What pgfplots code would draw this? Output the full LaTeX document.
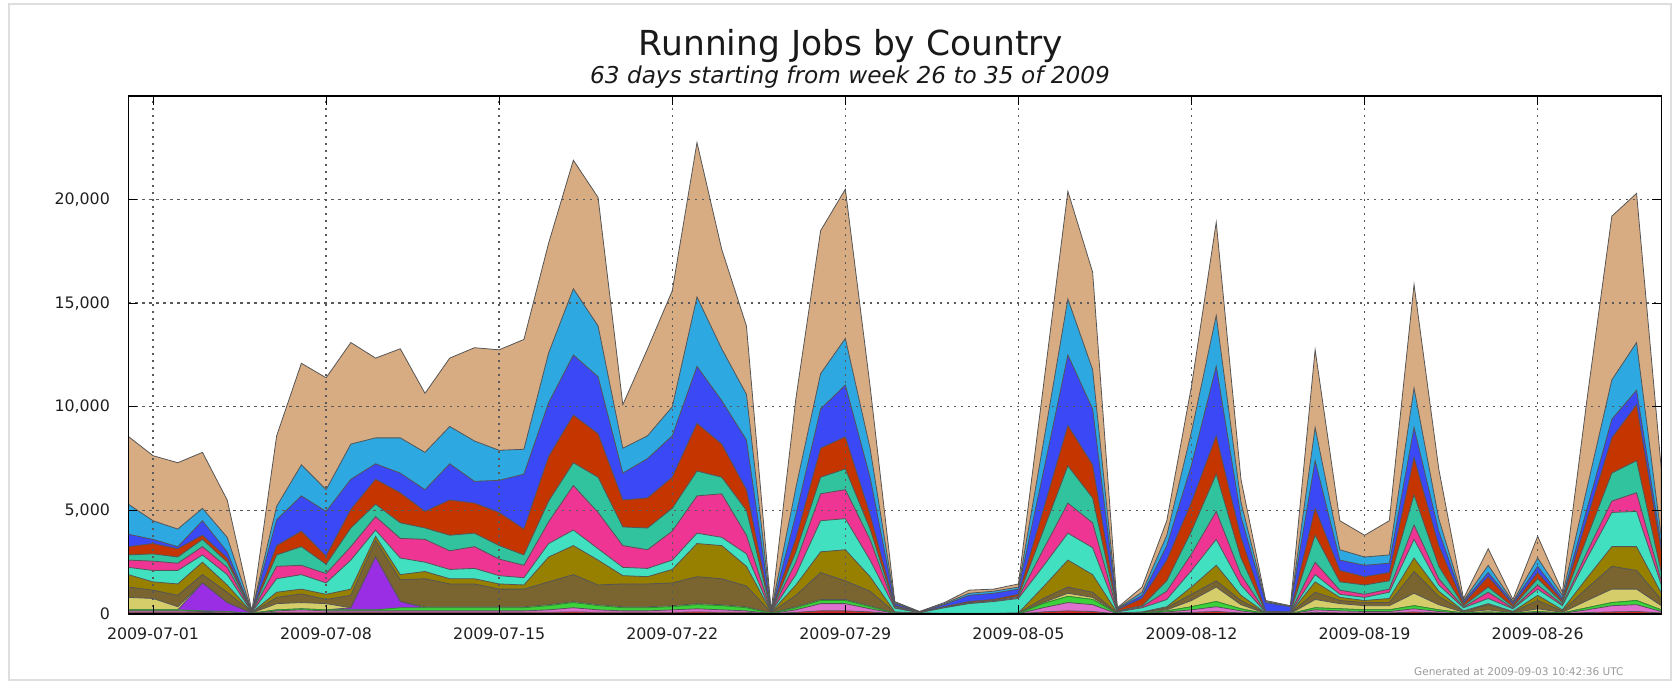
\documentclass[border=0pt]{standalone}
\usepackage{fontspec}
\setmainfont{DejaVu Sans}
\usepackage{pgfplots}
\usepackage{pgfplotstable}
\pgfplotsset{compat=1.18}
\definecolor{ctn}{HTML}{D8AC82}
\definecolor{csk}{HTML}{2EA8E0}
\definecolor{cbl}{HTML}{3A48F5}
\definecolor{crd}{HTML}{C43500}
\definecolor{ctl}{HTML}{31C29E}
\definecolor{cpk}{HTML}{EE3593}
\definecolor{ctq}{HTML}{41E0C0}
\definecolor{col}{HTML}{978000}
\definecolor{cdk}{HTML}{7A6530}
\definecolor{cye}{HTML}{D5CC6A}
\definecolor{cpu}{HTML}{9A2EE5}
\definecolor{cgr}{HTML}{3CD23C}
\definecolor{cmg}{HTML}{E070D0}
\definecolor{crb}{HTML}{E02828}
\definecolor{edgec}{HTML}{555555}

% cumulative tops of the stacked layers (bottom layer rb ... top layer tn)
\pgfplotstableread{
d tn sk bl rd tl pk tq ol dk ye pu gr mg rb
0 8570 5300 3850 3250 2850 2600 2250 1900 1300 800 200 200 150 80
1 7640 4500 3600 3400 2900 2550 2100 1550 1150 750 200 200 150 80
2 7300 4100 3250 3150 2750 2450 2100 1450 900 350 200 200 150 80
3 7800 5100 4500 3800 3600 3250 2850 2500 1900 1500 1500 150 120 80
4 5500 3700 3000 2700 2500 2250 1900 1400 1050 550 550 120 100 50
5 150 140 130 120 110 100 90 80 70 50 40 30 20 10
6 8600 5200 4550 3300 2850 2300 1700 1050 800 500 200 200 150 80
7 12100 7200 5700 4000 3250 2350 1900 1200 970 550 250 250 200 80
8 11400 6000 4950 2800 2400 1950 1500 950 700 500 200 200 150 80
9 13100 8200 6500 5050 4150 3250 2600 1200 900 300 300 200 150 80
10 12350 8500 7250 6500 5300 4700 4050 3750 3550 2750 2750 200 150 80
11 12800 8500 6800 5850 4400 3650 2700 1900 1650 600 600 300 150 80
12 10650 7800 6000 4950 4150 3600 2500 2050 1700 350 300 300 150 80
13 12350 9050 7250 5500 3800 3050 2150 1700 1450 350 300 300 150 80
14 12850 8350 6400 5350 3900 3250 2200 1700 1450 350 300 300 150 80
15 12750 7900 6450 4900 3300 2650 1850 1450 1200 350 300 300 150 80
16 13250 7950 6750 4100 2850 2350 1750 1400 1200 350 300 300 150 80
17 17900 12600 10200 7600 5450 4450 3400 2750 1550 450 400 400 200 80
18 21900 15700 12500 9600 7300 6200 4050 3300 1900 600 550 550 300 100
19 20100 13900 11450 8700 6600 4900 3150 2600 1400 450 400 400 200 80
20 10100 8000 6800 5500 4200 3300 2250 1850 1450 350 300 300 150 80
21 12800 8600 7500 5600 4150 3100 2200 1800 1450 350 300 300 150 80
22 15600 10000 8600 6600 5100 4000 2600 2150 1500 400 350 350 200 80
23 22750 15300 11950 9200 6900 5700 3900 3400 1800 500 450 450 250 100
24 17600 12800 10300 8200 6600 5800 3700 3300 1700 450 400 400 200 80
25 13900 10600 8400 6000 5000 3800 2900 2300 1350 350 300 300 150 80
26 150 140 130 120 110 100 90 80 70 50 40 30 20 10
27 10400 6100 4800 3650 3000 2500 1900 1400 900 350 300 300 200 80
28 18500 11600 9900 8000 6600 5800 4500 3000 2000 700 650 650 500 150
29 20500 13300 11050 8550 7000 6000 4600 3100 1600 700 650 650 500 150
30 11000 8000 6600 4800 4100 3600 2600 1800 1100 400 350 350 250 100
31 600 550 500 400 350 300 280 100 80 50 40 40 30 10
32 120 110 100 90 80 70 60 50 40 30 20 20 10 5
33 550 500 450 350 330 320 300 30 25 20 15 15 10 5
34 1150 1000 900 600 550 520 500 30 25 20 15 15 10 5
35 1200 1100 1000 700 650 620 600 30 25 20 15 15 10 5
36 1450 1300 1200 950 850 800 750 50 40 30 20 20 10 5
37 10900 8200 6800 5000 4000 3100 2300 1300 750 550 500 500 300 100
38 20400 15200 12500 9100 7150 5350 3900 2600 1300 1000 850 850 550 150
39 16500 11800 9900 7200 5600 4400 3200 1900 1050 800 700 700 450 120
40 300 270 240 200 150 120 100 50 40 30 20 20 10 5
41 1300 1050 900 750 400 350 300 100 80 60 40 40 20 10
42 4500 3800 3300 2600 1600 1100 700 350 300 200 150 150 100 50
43 11000 8800 7200 5400 4000 2900 2100 1300 950 650 350 350 200 80
44 18900 14400 11950 8600 6750 4950 3600 2350 1600 1300 600 600 350 120
45 6500 5400 4700 3700 2700 1900 1400 900 650 450 250 250 150 50
46 650 600 550 120 100 90 80 50 40 30 20 20 10 5
47 400 370 350 100 80 70 60 40 30 20 15 15 10 5
48 12750 9000 7400 5100 3800 2500 1900 1550 1050 700 300 300 200 80
49 4500 3100 2600 2100 1550 1150 950 800 650 500 250 250 150 50
50 3800 2750 2350 1800 1400 950 800 650 550 400 200 200 120 50
51 4500 2850 2450 2000 1600 1200 1050 750 550 400 200 200 120 50
52 15900 10900 9000 7550 5750 4300 3600 2700 2050 1000 400 400 250 100
53 7000 4600 4000 3300 2300 1700 1400 1100 850 450 200 200 120 50
54 750 650 600 500 400 330 300 150 120 80 50 50 30 10
55 3150 2350 2000 1800 1300 1050 750 500 450 200 100 100 60 20
56 700 600 550 450 350 280 250 120 100 60 40 40 20 10
57 3750 2700 2300 2000 1700 1400 1200 900 650 250 120 120 80 30
58 1050 900 750 650 550 450 400 200 150 80 50 50 30 10
59 10400 6100 5100 4600 3700 3000 2700 1750 1250 650 300 300 200 70
60 19200 11300 9400 8500 6800 5450 4900 3250 2300 1200 550 550 400 100
61 20300 13100 10800 10100 7400 5850 4950 3250 2100 1200 650 650 450 120
62 7000 3700 3300 3000 2000 1600 1400 1000 700 400 200 200 120 50
}\jobs

\begin{document}
\begin{tikzpicture}[x=1mm,y=1mm]
\path[use as bounding box] (0,0) rectangle (167.7,68.5);
\draw[black!13, line width=0.25mm] (0.9,0.5) rectangle (167.1,68.1);
\node[font=\fontsize{9.8}{11}\selectfont, text=black!90, anchor=base] at (85.1,62.9) {Running Jobs by Country};
\node[font=\fontsize{6.6}{8}\selectfont\itshape, text=black!90, anchor=base] at (85.0,60.1) {63 days starting from week 26 to 35 of 2009};
\node[font=\fontsize{3.0}{4}\selectfont, text=black!40, anchor=base east] at (163.6,0.9) {Generated at 2009-09-03 10:42:36 UTC};
\begin{axis}[
  at={(12.83mm,7.1mm)}, anchor=south west,
  scale only axis, width=153.3mm, height=51.8mm,
  xmin=0, xmax=62, ymin=0, ymax=25000,
  axis on top,
  grid=major,
  major grid style={black!65, line width=0.14mm, dash pattern=on 0.22mm off 0.48mm},
  xtick={1,8,15,22,29,36,43,50,57},
  xticklabels={2009-07-01,2009-07-08,2009-07-15,2009-07-22,2009-07-29,2009-08-05,2009-08-12,2009-08-19,2009-08-26},
  ytick={0,5000,10000,15000,20000},
  scaled y ticks=false,
  /pgf/number format/assume math mode=true,
  /pgf/number format/1000 sep={,},
  tick align=inside,
  major tick length=0.9mm,
  tick style={black, line width=0.1mm},
  axis line style={black, line width=0.13mm},
  tick label style={font=\fontsize{4.5}{5}\selectfont, text=black!88},
  yticklabel style={xshift=-0.6mm},
  xticklabel style={yshift=-0.1mm},
]
\addplot[fill=ctn, draw=edgec, line width=0.08mm] table[x=d,y=tn]{\jobs} \closedcycle;
\addplot[fill=csk, draw=edgec, line width=0.08mm] table[x=d,y=sk]{\jobs} \closedcycle;
\addplot[fill=cbl, draw=edgec, line width=0.08mm] table[x=d,y=bl]{\jobs} \closedcycle;
\addplot[fill=crd, draw=edgec, line width=0.08mm] table[x=d,y=rd]{\jobs} \closedcycle;
\addplot[fill=ctl, draw=edgec, line width=0.08mm] table[x=d,y=tl]{\jobs} \closedcycle;
\addplot[fill=cpk, draw=edgec, line width=0.08mm] table[x=d,y=pk]{\jobs} \closedcycle;
\addplot[fill=ctq, draw=edgec, line width=0.08mm] table[x=d,y=tq]{\jobs} \closedcycle;
\addplot[fill=col, draw=edgec, line width=0.08mm] table[x=d,y=ol]{\jobs} \closedcycle;
\addplot[fill=cdk, draw=edgec, line width=0.08mm] table[x=d,y=dk]{\jobs} \closedcycle;
\addplot[fill=cye, draw=edgec, line width=0.08mm] table[x=d,y=ye]{\jobs} \closedcycle;
\addplot[fill=cpu, draw=edgec, line width=0.08mm] table[x=d,y=pu]{\jobs} \closedcycle;
\addplot[fill=cgr, draw=cgr!70!black, line width=0.08mm] table[x=d,y=gr]{\jobs} \closedcycle;
\addplot[fill=cmg, draw=edgec, line width=0.08mm] table[x=d,y=mg]{\jobs} \closedcycle;
\addplot[fill=crb, draw=edgec, line width=0.08mm] table[x=d,y=rb]{\jobs} \closedcycle;
\draw[black, line width=0.28mm] (axis cs:0,0) -- (axis cs:62,0);
\end{axis}
\end{tikzpicture}
\end{document}
